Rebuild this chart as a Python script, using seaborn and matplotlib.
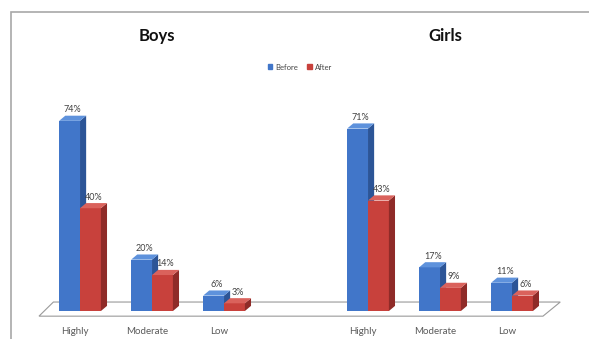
import numpy as np
import pandas as pd
import matplotlib
matplotlib.use("Agg")
import matplotlib.pyplot as plt
import matplotlib.transforms as mtransforms
from matplotlib.patches import Polygon, Rectangle, Patch
import seaborn as sns

# Datos
grupos = ["Boys", "Girls"]
niveles = ["Highly", "Moderate", "Low"]
periodos = ["Before", "After"]
boys_before = [74, 20, 6]
boys_after = [40, 14, 3]
girls_before = [71, 17, 11]
girls_after = [43, 9, 6]

colores = {"Before": "#4176C9", "After": "#C8413C"}
lados = {"Before": "#2C5597", "After": "#8F2B28"}
techos = {"Before": "#5E92DC", "After": "#DA625C"}

filas = []
for grupo, antes, despues in [("Boys", boys_before, boys_after),
                              ("Girls", girls_before, girls_after)]:
    for nivel, a, d in zip(niveles, antes, despues):
        filas.append({"slot": f"{grupo}-{nivel}", "Periodo": "Before", "valor": a})
        filas.append({"slot": f"{grupo}-{nivel}", "Periodo": "After", "valor": d})
df = pd.DataFrame(filas)

# hueco vacio entre los dos grupos
orden = [f"Boys-{n}" for n in niveles] + ["-"] + [f"Girls-{n}" for n in niveles]
etiquetas = niveles + [""] + niveles

sns.set_style("white")
plt.rcParams["font.family"] = ["Lato", "DejaVu Sans"]

fig = plt.figure(figsize=(5.89, 3.39), dpi=100)
ax = fig.add_axes([0.0503, 0.0522, 0.929, 0.652])

sns.barplot(data=df, x="slot", y="valor", hue="Periodo", order=orden,
            hue_order=periodos, palette=colores, width=0.58, gap=0,
            saturation=1, legend=False, linewidth=0, edgecolor="none", ax=ax)

ax.set_xlim(-0.7, len(orden) - 0.1)
ax.set_ylim(-4, 82)
for s in ax.spines.values():
    s.set_visible(False)
ax.set_yticks([])
ax.set_xlabel("")
ax.set_ylabel("")
ax.set_xticks(range(len(orden)))
ax.set_xticklabels(etiquetas, fontsize=7, color="#5a5a5a")
ax.tick_params(axis="x", length=0, pad=4)
desplaza = mtransforms.ScaledTranslation(-5 / 100, 0, fig.dpi_scale_trans)
for lab in ax.get_xticklabels():
    lab.set_transform(lab.get_transform() + desplaza)

# efecto 3D: cara lateral y superior de cada barra
dx, dy = 0.085, 2.0
barras = sorted([p for p in ax.patches if isinstance(p, Rectangle)],
                key=lambda p: p.get_x())
z = 3
for p in barras:
    x, w, h = p.get_x(), p.get_width(), p.get_height()
    if np.isnan(h):
        continue
    per = "Before" if np.allclose(p.get_facecolor()[:3],
                                  matplotlib.colors.to_rgb(colores["Before"])) else "After"
    p.set_zorder(z)
    p.set_linewidth(0)
    ax.add_patch(Polygon([(x + w, 0), (x + w, h), (x + w + dx, h + dy), (x + w + dx, dy)],
                         closed=True, facecolor=lados[per], edgecolor="none", zorder=z + 0.1))
    ax.add_patch(Polygon([(x, h), (x + w, h), (x + w + dx, h + dy), (x + dx, h + dy)],
                         closed=True, facecolor=techos[per], edgecolor="none", zorder=z + 0.2))
    ax.text(x + w / 2 + dx / 2, h + dy + 0.6, f"{h:.0f}%", ha="center", va="bottom",
            fontsize=6.5, color="#404040", zorder=20)
    z += 1

# suelo en perspectiva
izq, der = -0.57, len(orden) - 0.57
suelo = Polygon([(izq, -2), (izq + 0.2, 3.5), (der + 0.24, 3.5), (der, -2)],
                closed=True, facecolor="white", edgecolor="#9a9a9a", lw=0.8, zorder=1)
ax.add_patch(suelo)

# titulos de grupo
mezcla = mtransforms.blended_transform_factory(ax.transData, fig.transFigure)
for i, g in enumerate(grupos):
    ax.text(1 + 4 * i + 0.07, 1 - 36 / 339, g, transform=mezcla, ha="center",
            va="center", fontsize=12, fontweight="bold", color="#111111")

# leyenda
manijas = [Patch(color=colores[p], label=p) for p in periodos]
fig.legend(handles=manijas, loc="center", bbox_to_anchor=(300 / 589, 1 - 67 / 339),
           ncol=2, frameon=False, fontsize=5.5, handlelength=0.6, handleheight=0.6,
           handletextpad=0.4, columnspacing=1.2, labelcolor="#444444")

# marco exterior del grafico
fig.patches.append(Rectangle((11 / 589, -0.2), 1.2, 1 - 12 / 339 + 0.2,
                             transform=fig.transFigure, fill=False,
                             edgecolor="#a8a8a8", lw=1.2))

fig.savefig("out.png", dpi=100)
